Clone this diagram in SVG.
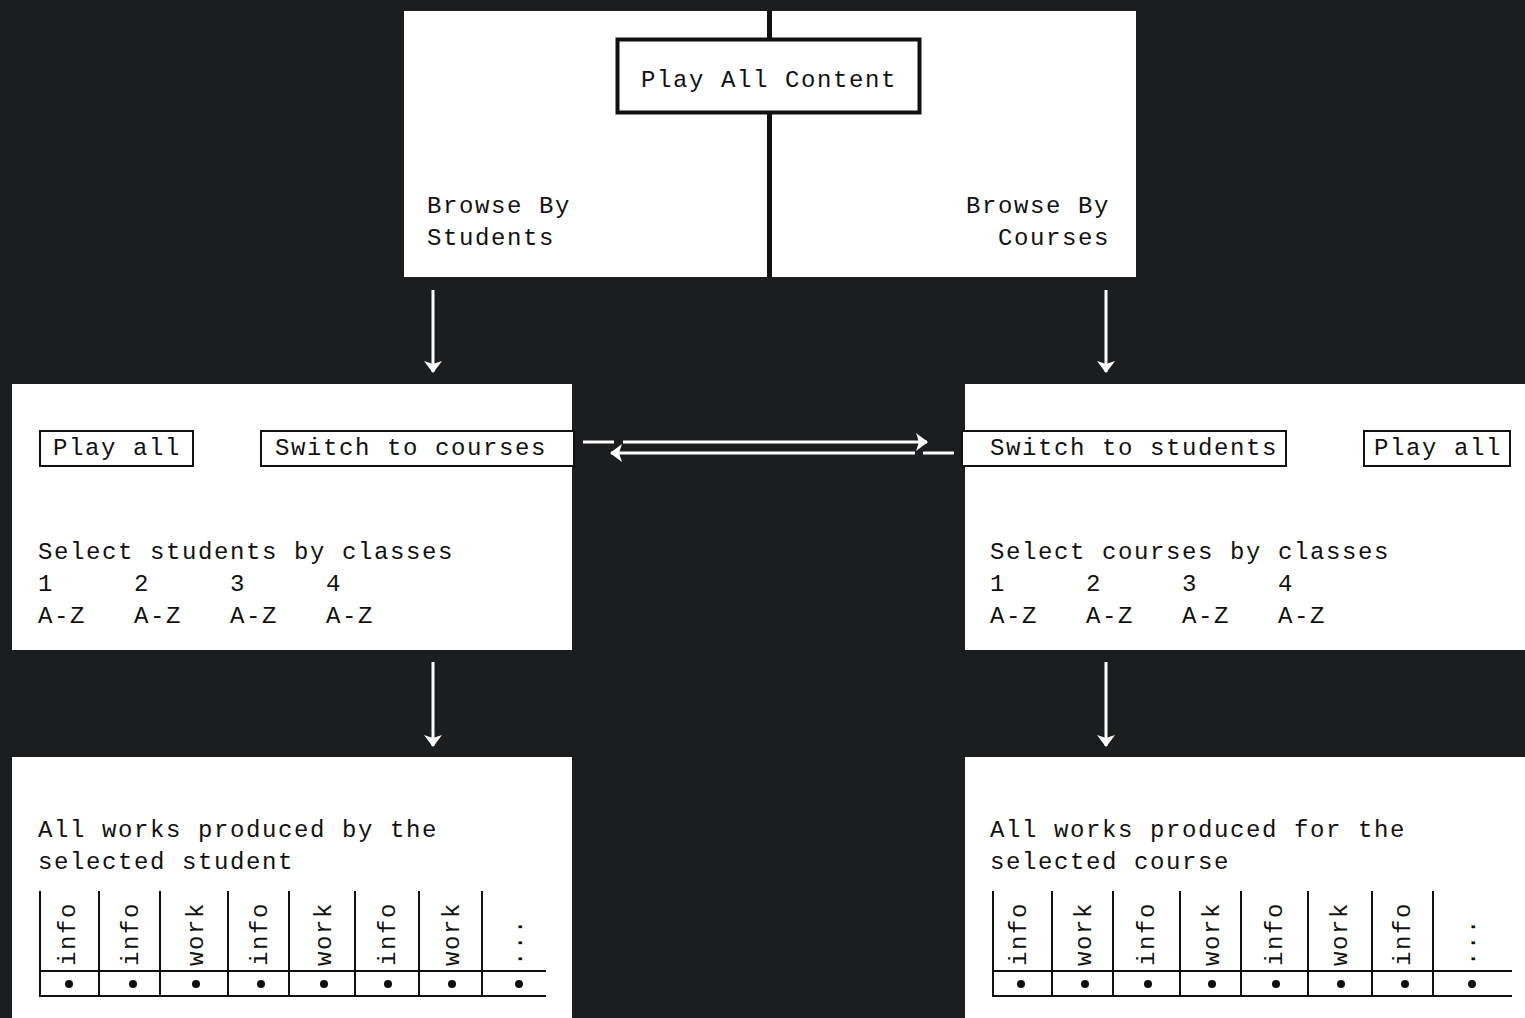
<svg xmlns="http://www.w3.org/2000/svg" width="1525" height="1018" viewBox="0 0 1525 1018">
<style>
.bg{fill:#1c1d1f}
.panel{fill:#ffffff}
.t{font-family:"Liberation Mono","DejaVu Sans Mono",monospace;font-size:24px;letter-spacing:1.6px;fill:#111}
.btn{fill:#fff;stroke:#111;stroke-width:2}
.grid{stroke:#111;stroke-width:2;fill:none}
.dot{fill:#111}
.conn{stroke:#fff;stroke-width:3;fill:none}
</style>
<defs>
<marker id="ah" markerUnits="userSpaceOnUse" markerWidth="22" markerHeight="22" refX="11" refY="11" orient="auto">
<path d="M0,2 L12,11 L0,20 L3,11 Z" fill="#fff"/>
</marker>
</defs>
<rect class="bg" x="0" y="0" width="1525" height="1018"/>

<g id="top">
<rect class="panel" x="404" y="11" width="732" height="266"/>
<rect x="767" y="11" width="5" height="266" fill="#111"/>
<text class="t" x="427" y="213">Browse By</text>
<text class="t" x="427" y="245">Students</text>
<text class="t" x="966" y="213">Browse By</text>
<text class="t" x="998" y="245">Courses</text>
</g>
<g id="play-all-content">
<rect x="617.5" y="39.5" width="302" height="73" fill="#fff" stroke="#111" stroke-width="4"/>
<text class="t" x="641" y="87">Play All Content</text>
</g>

<g id="students-panel">
<rect class="panel" x="12" y="384" width="560" height="266"/>
<rect class="btn" x="40" y="431" width="153" height="35"/>
<text class="t" x="53" y="455">Play all</text>
<rect class="btn" x="261" y="431" width="313" height="35"/>
<text class="t" x="275" y="455">Switch to courses</text>
<text class="t" x="38" y="559">Select students by classes</text>
<text class="t" x="38" y="591">1</text><text class="t" x="134" y="591">2</text><text class="t" x="230" y="591">3</text><text class="t" x="326" y="591">4</text>
<text class="t" x="38" y="623">A-Z</text><text class="t" x="134" y="623">A-Z</text><text class="t" x="230" y="623">A-Z</text><text class="t" x="326" y="623">A-Z</text>
</g>

<g id="courses-panel">
<rect class="panel" x="965" y="384" width="560" height="266"/>
<rect class="btn" x="962" y="431" width="324" height="35"/>
<text class="t" x="990" y="455">Switch to students</text>
<rect class="btn" x="1364" y="431" width="146" height="35"/>
<text class="t" x="1374" y="455">Play all</text>
<text class="t" x="990" y="559">Select courses by classes</text>
<text class="t" x="990" y="591">1</text><text class="t" x="1086" y="591">2</text><text class="t" x="1182" y="591">3</text><text class="t" x="1278" y="591">4</text>
<text class="t" x="990" y="623">A-Z</text><text class="t" x="1086" y="623">A-Z</text><text class="t" x="1182" y="623">A-Z</text><text class="t" x="1278" y="623">A-Z</text>
</g>

<g id="student-works">
<rect class="panel" x="12" y="757" width="560" height="261"/>
<text class="t" x="38" y="837">All works produced by the</text>
<text class="t" x="38" y="869">selected student</text>
<path class="grid" d="M40,891V997 M99,891V997 M160,891V997 M228,891V997 M289,891V997 M355,891V997 M419,891V997 M482,891V997 M40,971H546 M40,996H546"/>
<g class="t">
<text transform="translate(75,966) rotate(-90)">info</text>
<text transform="translate(138,966) rotate(-90)">info</text>
<text transform="translate(203,966) rotate(-90)">work</text>
<text transform="translate(267,966) rotate(-90)">info</text>
<text transform="translate(331,966) rotate(-90)">work</text>
<text transform="translate(395,966) rotate(-90)">info</text>
<text transform="translate(459,966) rotate(-90)">work</text>
<text transform="translate(522,966) rotate(-90)">...</text>
</g>
<g class="dot">
<circle cx="69" cy="984" r="4"/><circle cx="133" cy="984" r="4"/><circle cx="196" cy="984" r="4"/><circle cx="261" cy="984" r="4"/><circle cx="324" cy="984" r="4"/><circle cx="388" cy="984" r="4"/><circle cx="452" cy="984" r="4"/><circle cx="519" cy="984" r="4"/>
</g>
</g>

<g id="course-works">
<rect class="panel" x="965" y="757" width="560" height="261"/>
<text class="t" x="990" y="837">All works produced for the</text>
<text class="t" x="990" y="869">selected course</text>
<path class="grid" d="M993,891V997 M1052,891V997 M1113,891V997 M1180,891V997 M1241,891V997 M1308,891V997 M1372,891V997 M1433,891V997 M993,971H1512 M993,996H1512"/>
<g class="t">
<text transform="translate(1026,966) rotate(-90)">info</text>
<text transform="translate(1091,966) rotate(-90)">work</text>
<text transform="translate(1154,966) rotate(-90)">info</text>
<text transform="translate(1219,966) rotate(-90)">work</text>
<text transform="translate(1282,966) rotate(-90)">info</text>
<text transform="translate(1347,966) rotate(-90)">work</text>
<text transform="translate(1410,966) rotate(-90)">info</text>
<text transform="translate(1475,966) rotate(-90)">...</text>
</g>
<g class="dot">
<circle cx="1021" cy="984" r="4"/><circle cx="1085" cy="984" r="4"/><circle cx="1148" cy="984" r="4"/><circle cx="1212" cy="984" r="4"/><circle cx="1276" cy="984" r="4"/><circle cx="1341" cy="984" r="4"/><circle cx="1405" cy="984" r="4"/><circle cx="1472" cy="984" r="4"/>
</g>
</g>

<g id="connectors">
<line class="conn" x1="433" y1="290" x2="433" y2="372" marker-end="url(#ah)"/>
<line class="conn" x1="1106" y1="290" x2="1106" y2="372" marker-end="url(#ah)"/>
<line class="conn" x1="433" y1="662" x2="433" y2="746" marker-end="url(#ah)"/>
<line class="conn" x1="1106" y1="662" x2="1106" y2="746" marker-end="url(#ah)"/>
<line class="conn" x1="583" y1="442" x2="614" y2="442"/>
<line class="conn" x1="623" y1="442" x2="927" y2="442" marker-end="url(#ah)"/>
<line class="conn" x1="923" y1="453" x2="954" y2="453"/>
<line class="conn" x1="915" y1="453" x2="611" y2="453" marker-end="url(#ah)"/>
</g>
</svg>
